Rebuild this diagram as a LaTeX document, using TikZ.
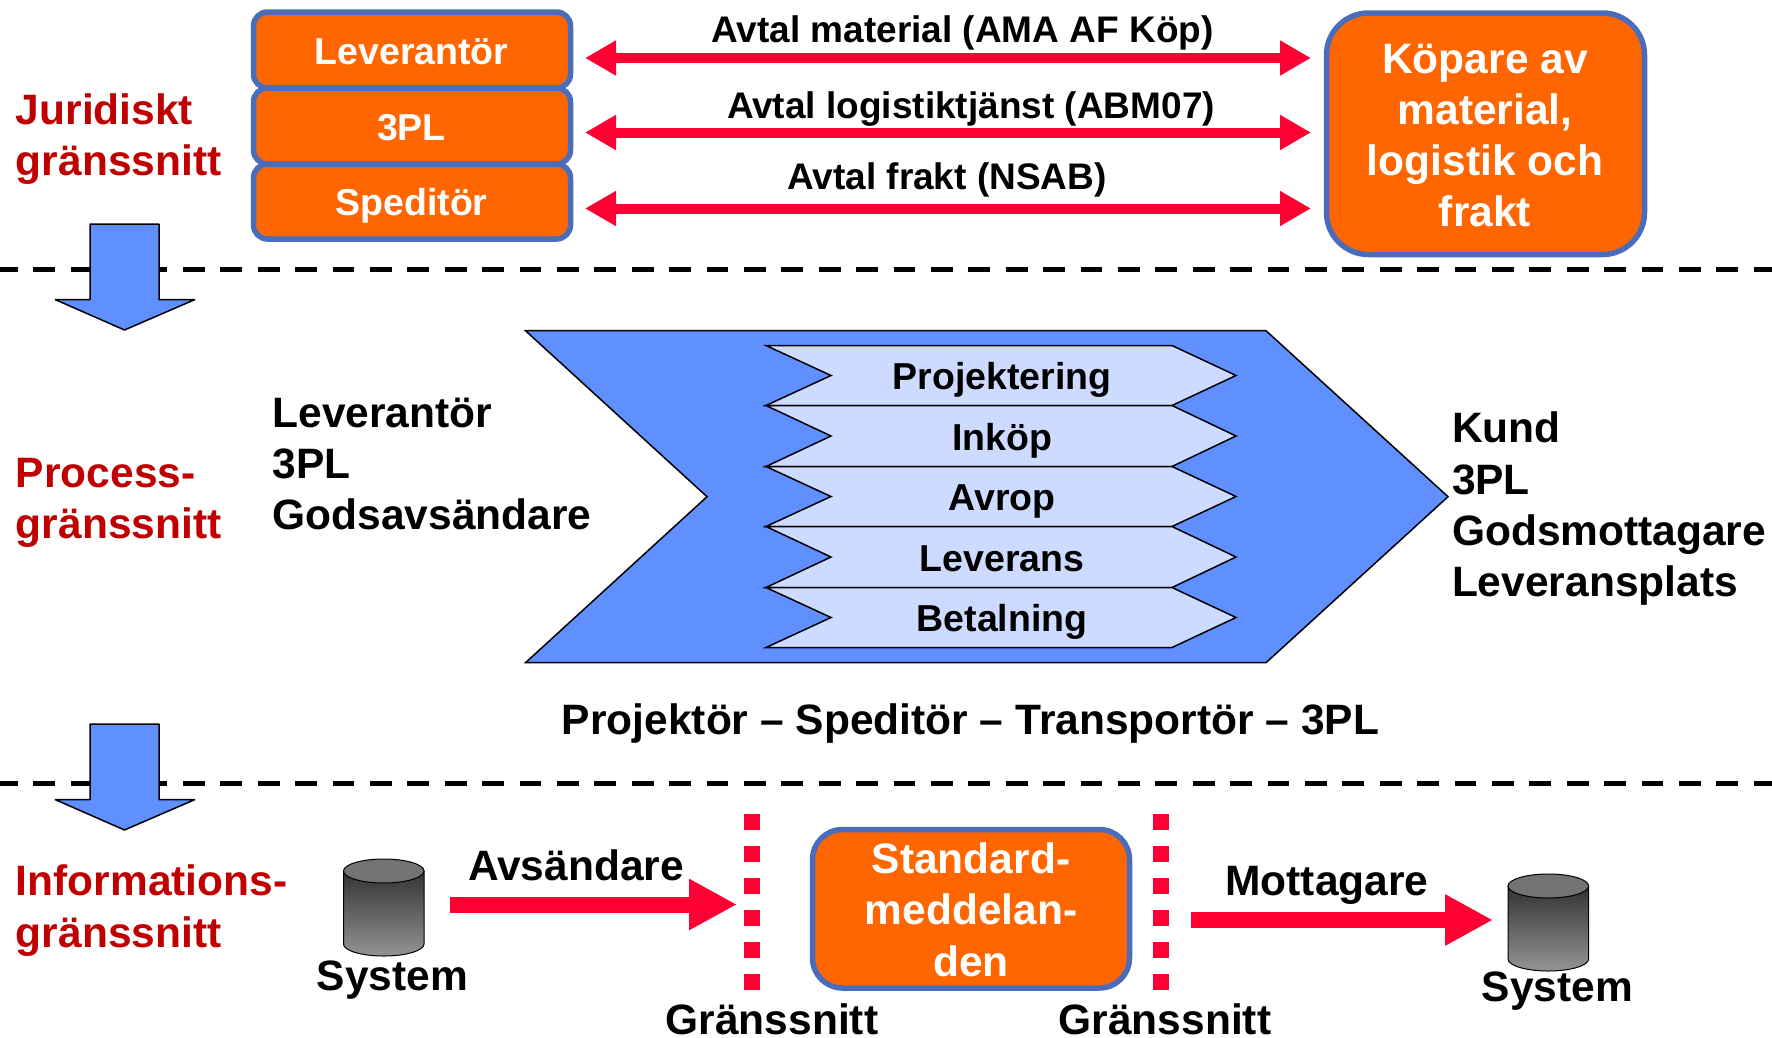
\documentclass[tikz,border=0pt]{standalone}
\usepackage{fontspec}
\setmainfont{Liberation Sans}
\usetikzlibrary{arrows.meta}
\definecolor{orangefill}{HTML}{FF6600}
\definecolor{boxblue}{HTML}{4A6DBB}
\definecolor{redarrow}{HTML}{FF0033}
\definecolor{bluefill}{HTML}{6090FF}
\definecolor{lightblue}{HTML}{CCDBFF}
\definecolor{labelred}{HTML}{C00000}
\tikzset{
  txt/.style={inner sep=0pt,outer sep=0pt,font=\bfseries\fontsize{37.5}{45}\selectfont,anchor=base},
  midtxt/.style={inner sep=0pt,outer sep=0pt,font=\bfseries\fontsize{37}{45}\selectfont,anchor=base},
  bigtxt/.style={inner sep=0pt,outer sep=0pt,font=\bfseries\fontsize{42.5}{51}\selectfont,anchor=base},
  sect/.style={bigtxt,anchor=base west,text=labelred},
  orangebox/.style={draw=boxblue,fill=orangefill,line width=5.5pt,rounded corners=#1},
  agree/.style={draw=redarrow,line width=10pt,{Triangle[length=31pt,width=33pt]}-{Triangle[length=31pt,width=33pt]}},
  bigarrow/.style={draw=redarrow,line width=16pt,-{Triangle[length=48pt,width=48pt]}},
  sep/.style={line width=5.5pt,dash pattern=on 21.7pt off 15.7pt},
  bluearrow/.style={draw=black,fill=bluefill,line width=1.5pt,line join=bevel},
  chev/.style={draw=black,fill=lightblue,line width=1.5pt},
  iface/.style={draw=redarrow,line width=16pt,dash pattern=on 16pt off 16pt},
  cylbody/.style={draw=black,line width=1pt,top color=black!80,bottom color=black!42},
  cyltop/.style={draw=black,line width=1pt,fill=black!55},
}
\begin{document}
\begin{tikzpicture}[x=1pt,y=-1pt]
\useasboundingbox (0,0) rectangle (1772,1037);

% separators
\coordinate (s1a) at (-4,269.7); \coordinate (s1b) at (1772,269.7);
\coordinate (s2a) at (-4,783.7); \coordinate (s2b) at (1772,783.7);
\draw[sep] (s1a) -- (s1b);
\draw[sep] (s2a) -- (s2b);

% blue block arrows
\path[bluearrow] (90,224) -- (159,224) -- (159,299.5) -- (195,299.5) -- (124.5,330) -- (55,299.5) -- (90,299.5) -- cycle;
\path[bluearrow] (90,724) -- (159,724) -- (159,799.5) -- (195,799.5) -- (124.5,830) -- (55,799.5) -- (90,799.5) -- cycle;

% section labels
\node[sect] (jur1) at (16,124) {Juridiskt};
\node[sect] (jur2) at (16,175) {gränssnitt};
\node[sect] (pro1) at (16,487) {Process-};
\node[sect] (pro2) at (16,538) {gränssnitt};
\node[sect] (inf1) at (16,895) {Informations-};
\node[sect] (inf2) at (16,947.5) {gränssnitt};

% stacked boxes
\draw[orangebox=14pt] (253.5,12) rectangle (570.5,88);
\draw[orangebox=14pt] (253.5,88) rectangle (570.5,164);
\draw[orangebox=14pt] (253.5,164) rectangle (570.5,239);
\node[txt,text=white] (lev) at (411.5,64) {Leverantör};
\node[txt,text=white] (tpl) at (411.5,140) {3PL};
\node[txt,text=white] (spe) at (411.5,215) {Speditör};

% buyer box
\draw[orangebox=42pt] (1326.5,13) rectangle (1644.5,254.5);
\node[bigtxt,text=white] (kop1) at (1485,73) {Köpare av};
\node[bigtxt,text=white] (kop2) at (1485,124) {material,};
\node[bigtxt,text=white] (kop3) at (1485,175) {logistik och};
\node[bigtxt,text=white] (kop4) at (1485,226) {frakt};

% agreements
\coordinate (a1l) at (585,58);    \coordinate (a1r) at (1311,58);
\coordinate (a2l) at (585,132.5); \coordinate (a2r) at (1311,132.5);
\coordinate (a3l) at (585,208.5); \coordinate (a3r) at (1311,208.5);
\draw[agree] (a1l) -- (a1r);
\draw[agree] (a2l) -- (a2r);
\draw[agree] (a3l) -- (a3r);
\node[midtxt] (av1) at (962.5,42.8) {Avtal material (AMA AF Köp)};
\node[midtxt] (av2) at (971,118.8) {Avtal logistiktjänst (ABM07)};
\node[midtxt] (av3) at (947,189.8) {Avtal frakt (NSAB)};

% process
\path[draw=black,fill=bluefill,line width=1.5pt] (525.5,330.7) -- (1266,330.7) -- (1448,496.7) -- (1266,662.7) -- (525.5,662.7) -- (707,496.7) -- cycle;
\foreach \a/\b in {345.5/405.5,405.5/466.5,466.5/526.5,526.5/587.5,587.5/647.5}{
  \path[chev] (766,\a) -- (1172,\a) -- (1236,{(\a+\b)/2}) -- (1172,\b) -- (766,\b) -- (831,{(\a+\b)/2}) -- cycle;
}
\node[txt] (p1) at (1002,389) {Projektering};
\node[txt] (p2) at (1002,450) {Inköp};
\node[txt] (p3) at (1002,510) {Avrop};
\node[txt] (p4) at (1002,571) {Leverans};
\node[txt] (p5) at (1002,631.5) {Betalning};

\node[bigtxt,anchor=base west] (l1) at (272.5,427) {Leverantör};
\node[bigtxt,anchor=base west] (l2) at (272.5,478) {3PL};
\node[bigtxt,anchor=base west] (l3) at (272.5,529) {Godsavsändare};
\node[bigtxt,anchor=base west] (r1) at (1452,442) {Kund};
\node[bigtxt,anchor=base west] (r2) at (1452,494) {3PL};
\node[bigtxt,anchor=base west] (r3) at (1452,545) {Godsmottagare};
\node[bigtxt,anchor=base west] (r4) at (1452,596) {Leveransplats};
\node[bigtxt] (roles) at (970.5,734.5) {Projektör – Speditör – Transportör – 3PL};

% information: left system
\path[cylbody] (343.5,871) -- (343.5,944) arc[start angle=180,end angle=0,x radius=40.25,y radius=12] -- (424,871) -- cycle;
\draw[cyltop] (383.75,871) ellipse[x radius=40.25,y radius=12];
\node[bigtxt] (sys1) at (392.5,990) {System};
% right system
\path[cylbody] (1508,886) -- (1508,959) arc[start angle=180,end angle=0,x radius=40.3,y radius=12] -- (1588.6,886) -- cycle;
\draw[cyltop] (1548.3,886) ellipse[x radius=40.3,y radius=12];
\node[bigtxt] (sys2) at (1557.5,1001) {System};

% interface lines
\coordinate (i1a) at (752,814); \coordinate (i1b) at (752,991);
\coordinate (i2a) at (1160.5,814); \coordinate (i2b) at (1160.5,991);
\draw[iface] (i1a) -- (i1b);
\draw[iface] (i2a) -- (i2b);
\node[bigtxt] (g1) at (772,1034.5) {Gränssnitt};
\node[bigtxt] (g2) at (1165,1034.5) {Gränssnitt};

% standard box
\draw[orangebox=30pt] (812.5,829.5) rectangle (1129.5,988);
\node[bigtxt,text=white] (st1) at (971,873.7) {Standard-};
\node[bigtxt,text=white] (st2) at (971,924.7) {meddelan-};
\node[bigtxt,text=white] (st3) at (971,976) {den};

% message arrows
\coordinate (m1a) at (449.5,904.5); \coordinate (m1b) at (737,904.5);
\coordinate (m2a) at (1191,920);  \coordinate (m2b) at (1493,920);
\draw[bigarrow] (m1a) -- (m1b);
\draw[bigarrow] (m2a) -- (m2b);
\node[bigtxt] (avs) at (576,880.5) {Avsändare};
\node[bigtxt] (mot) at (1327,895.5) {Mottagare};
\end{tikzpicture}
\end{document}
